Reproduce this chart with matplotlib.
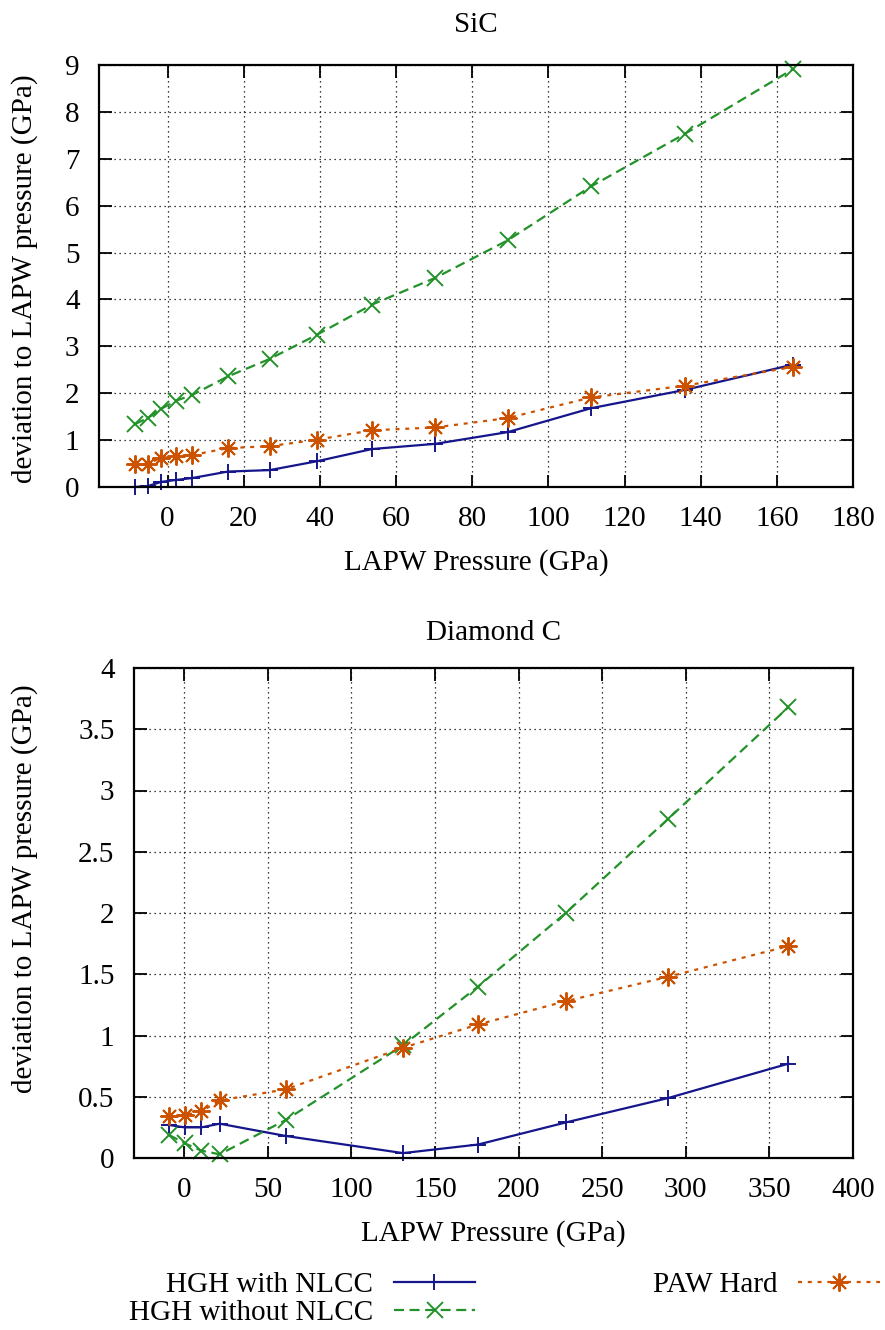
import numpy as np
import matplotlib
matplotlib.use("Agg")
import matplotlib.pyplot as plt
from matplotlib.ticker import FormatStrFormatter

plt.rcParams['font.family'] = ['Liberation Serif', 'DejaVu Serif']
plt.rcParams['font.size'] = 21

# SiC data
sic_p = [-8.6, -5.2, -1.6, 2.2, 6.4, 15.9, 26.8, 39.3, 53.7, 70.3, 89.3, 111.2, 135.8, 164.2]
sic_hgh_nlcc = [0.0, 0.02, 0.11, 0.15, 0.19, 0.33, 0.36, 0.55, 0.81, 0.92, 1.17, 1.68, 2.07, 2.61]
sic_hgh_nonlcc = [1.34, 1.47, 1.67, 1.84, 1.96, 2.36, 2.73, 3.25, 3.89, 4.46, 5.26, 6.41, 7.53, 8.91]
sic_paw = [0.48, 0.50, 0.62, 0.66, 0.68, 0.83, 0.87, 1.01, 1.21, 1.27, 1.47, 1.91, 2.16, 2.56]

# Diamond C data
c_p = [-9.3, 0.3, 10.3, 21.2, 60.7, 130.9, 175.8, 228.2, 289.6, 361.4]
c_hgh_nlcc = [0.27, 0.25, 0.25, 0.28, 0.18, 0.04, 0.11, 0.29, 0.49, 0.77]
c_hgh_nonlcc = [0.19, 0.12, 0.06, 0.03, 0.31, 0.92, 1.40, 2.00, 2.77, 3.68]
c_paw = [0.34, 0.35, 0.38, 0.47, 0.56, 0.90, 1.09, 1.28, 1.48, 1.73]

labels = ["HGH with NLCC", "HGH without NLCC", "PAW Hard"]
colors = ["#16168c", "#23922a", "#cc5200"]
styles = ["-", (0, (4.5, 2.5)), (0, (1.8, 2.6))]
markers = ["+", "x", (8, 2, 0)]
msizes = [11, 11, 13]

W, H = 885, 1330
fig = plt.figure(figsize=(W / 100, H / 100), dpi=100)


def style_axes(ax):
    ax.grid(True, color="black", linestyle=(0, (1, 3)), linewidth=0.9)
    ax.tick_params(direction="in", length=9, width=1.3, top=True, right=True, pad=14)
    for s in ax.spines.values():
        s.set_linewidth(1.6)


def draw(ax, x, series):
    handles = []
    for y, lab, c, ls, m, ms in zip(series, labels, colors, styles, markers, msizes):
        h, = ax.plot(x, y, color=c, linestyle=ls, linewidth=1.6, marker=m,
                     markersize=ms, markeredgewidth=1.4, label=lab, clip_on=False)
        handles.append(h)
    return handles


# top: SiC
ax1 = fig.add_axes([99 / W, 1 - 487 / H, 754 / W, 422 / H])
draw(ax1, sic_p, [sic_hgh_nlcc, sic_hgh_nonlcc, sic_paw])
ax1.set_xlim(-18, 180)
ax1.set_ylim(0, 9)
ax1.set_xticks(np.arange(0, 181, 20))
ax1.set_yticks(np.arange(0, 10, 1))
style_axes(ax1)
ax1.set_title("SiC", pad=24, fontsize=21)
ax1.set_xlabel("LAPW Pressure (GPa)", labelpad=12)
ax1.set_ylabel("deviation to LAPW pressure (GPa)")
ax1.yaxis.set_label_coords(38 / W, 1 - 279 / H, transform=fig.transFigure)

# bottom: Diamond C
ax2 = fig.add_axes([134 / W, 1 - 1158 / H, 719 / W, 490 / H])
handles = draw(ax2, c_p, [c_hgh_nlcc, c_hgh_nonlcc, c_paw])
ax2.set_xlim(-30, 400)
ax2.set_ylim(0, 4)
ax2.set_xticks(np.arange(0, 401, 50))
ax2.set_yticks(np.arange(0, 4.01, 0.5))
ax2.yaxis.set_major_formatter(FormatStrFormatter("%g"))
style_axes(ax2)
ax2.set_title("Diamond C", pad=20, fontsize=21)
ax2.set_xlabel("LAPW Pressure (GPa)", labelpad=12)
ax2.set_ylabel("deviation to LAPW pressure (GPa)")
ax2.yaxis.set_label_coords(38 / W, 1 - 889 / H, transform=fig.transFigure)

fig.legend(handles=handles, loc="upper left", bbox_to_anchor=(129 / W, 1 - 1272 / H),
           ncol=2, frameon=False, markerfirst=False, numpoints=1,
           handlelength=2.8, handletextpad=0.7, columnspacing=6.1,
           labelspacing=0.05, borderpad=0, borderaxespad=0)

fig.savefig("out.png", dpi=100)
